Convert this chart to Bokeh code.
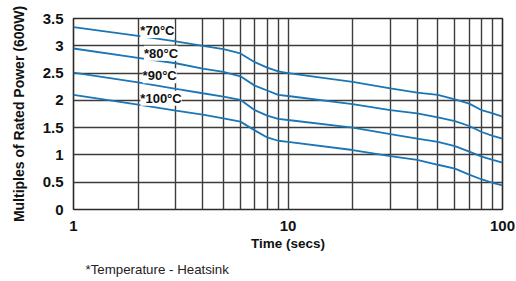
from bokeh.plotting import figure
from bokeh.models import FixedTicker, Label, Range1d, Title
from bokeh.embed import file_html
from bokeh.resources import INLINE

# ---- data ----
time_s = [1, 2, 3, 4, 5, 6, 7, 8, 9, 10, 20, 30, 40, 50, 60, 70, 80, 90, 100]
power_70c = [3.34, 3.18, 3.08, 3.00, 2.94, 2.86, 2.70, 2.60, 2.53, 2.50, 2.34, 2.22, 2.14, 2.10, 2.02, 1.94, 1.82, 1.76, 1.70]
power_80c = [2.95, 2.78, 2.68, 2.58, 2.52, 2.44, 2.27, 2.18, 2.10, 2.08, 1.93, 1.82, 1.76, 1.69, 1.62, 1.53, 1.42, 1.35, 1.30]
power_90c = [2.51, 2.33, 2.21, 2.13, 2.07, 2.01, 1.82, 1.72, 1.66, 1.64, 1.50, 1.38, 1.30, 1.24, 1.16, 1.06, 0.97, 0.91, 0.86]
power_100c = [2.10, 1.92, 1.81, 1.74, 1.67, 1.61, 1.45, 1.32, 1.26, 1.24, 1.09, 0.98, 0.91, 0.82, 0.75, 0.64, 0.55, 0.49, 0.44]
series_labels = ["*70°C", "*80°C", "*90°C", "*100°C"]
footnote = "*Temperature - Heatsink"

x_ticks = [1, 10, 100]
x_tick_labels = ["1", "10", "100"]
x_minor_ticks = [2, 3, 4, 5, 6, 7, 8, 9, 20, 30, 40, 50, 60, 70, 80, 90]
y_ticks = [0.0, 0.5, 1.0, 1.5, 2.0, 2.5, 3.0, 3.5]
y_tick_labels = ["0", "0.5", "1", "1.5", "2", "2.5", "3", "3.5"]

# label anchor positions (annotation placement)
label_x = [2.05, 2.13, 2.10, 2.05]
label_y = [3.28, 2.865, 2.45, 2.04]

BOLD = "Liberation Sans"
GRID = "#3c3c3c"
BLUE = "#1a76b6"

p = figure(frame_width=429, frame_height=191, x_axis_type="log",
           x_range=Range1d(1, 100), y_range=Range1d(0, 3.5),
           output_backend="svg", toolbar_location=None,
           min_border_left=73, min_border_right=14,
           min_border_top=18, min_border_bottom=72)
p.background_fill_color = "white"
p.border_fill_color = "white"
p.outline_line_color = "#2a2a2a"
p.outline_line_width = 1.6

p.xaxis.ticker = FixedTicker(ticks=x_ticks, minor_ticks=x_minor_ticks)
p.yaxis.ticker = FixedTicker(ticks=y_ticks)
p.xaxis.major_label_overrides = dict(zip(x_ticks, x_tick_labels))
p.yaxis.major_label_overrides = dict(zip(y_ticks, y_tick_labels))

for ax in (p.xaxis, p.yaxis):
    ax.axis_line_color = None
    ax.major_tick_line_color = None
    ax.minor_tick_line_color = None
    ax.major_tick_out = 0
    ax.major_tick_in = 0
    ax.minor_tick_out = 0
    ax.minor_tick_in = 0
    ax.major_label_text_font = BOLD
    ax.major_label_text_font_style = "bold"
    ax.major_label_text_font_size = "15px"
    ax.major_label_text_color = "#111111"
    ax.axis_label_text_font = BOLD
    ax.axis_label_text_font_style = "bold"
    ax.axis_label_text_color = "#111111"

p.xaxis.axis_label = "Time (secs)"
p.yaxis.axis_label = "Multiples of Rated Power (600W)"
p.xaxis.axis_label_text_font_size = "13.5px"
p.yaxis.axis_label_text_font_size = "14px"
p.xaxis.major_label_standoff = 11
p.xaxis.axis_label_standoff = 2
p.yaxis.major_label_standoff = 10
p.yaxis.axis_label_standoff = 13

p.xgrid.grid_line_color = GRID
p.xgrid.grid_line_width = 1.4
p.xgrid.minor_grid_line_color = GRID
p.xgrid.minor_grid_line_width = 1.4
p.ygrid.grid_line_color = GRID
p.ygrid.grid_line_width = 1.4

for series in (power_70c, power_80c, power_90c, power_100c):
    p.line(time_s, series, line_color=BLUE, line_width=1.8)

for txt, lx, ly in zip(series_labels, label_x, label_y):
    p.add_layout(Label(x=lx, y=ly, text=txt, text_align="left",
                       text_baseline="middle", text_font=BOLD,
                       text_font_style="bold", text_font_size="13px",
                       text_color="#111111", background_fill_color="white"))

# footnote below the x-axis title
p.add_layout(Title(text=footnote, align="left", offset=12, standoff=12,
                   text_font="Liberation Sans", text_font_style="normal",
                   text_font_size="13.3px", text_color="#222222"), "below")

open("out.html", "w").write(file_html(p, INLINE))
